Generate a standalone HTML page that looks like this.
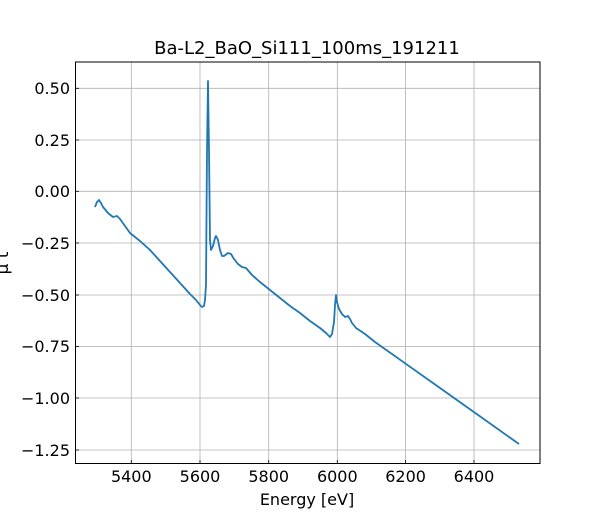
<!DOCTYPE html>
<html><head><meta charset="utf-8"><style>body{margin:0;background:#fff}</style></head><body>
<svg width="600" height="520" xmlns="http://www.w3.org/2000/svg" font-family="DejaVu Sans, Liberation Sans, sans-serif">
<rect width="600" height="520" fill="#fff"/>
<g stroke="#b0b0b0" stroke-width="0.8">
<line x1="131.3" y1="62" x2="131.3" y2="463.5"/><line x1="200" y1="62" x2="200" y2="463.5"/><line x1="268.7" y1="62" x2="268.7" y2="463.5"/><line x1="337.3" y1="62" x2="337.3" y2="463.5"/><line x1="405.6" y1="62" x2="405.6" y2="463.5"/><line x1="474" y1="62" x2="474" y2="463.5"/>
<line x1="75.5" y1="88.3" x2="540" y2="88.3"/><line x1="75.5" y1="140" x2="540" y2="140"/><line x1="75.5" y1="191.3" x2="540" y2="191.3"/><line x1="75.5" y1="243" x2="540" y2="243"/><line x1="75.5" y1="295" x2="540" y2="295"/><line x1="75.5" y1="346.5" x2="540" y2="346.5"/><line x1="75.5" y1="398" x2="540" y2="398"/><line x1="75.5" y1="450" x2="540" y2="450"/>
</g>
<g stroke="#000" stroke-width="0.8">
<line x1="131.3" y1="463.5" x2="131.3" y2="460"/><line x1="200" y1="463.5" x2="200" y2="460"/><line x1="268.7" y1="463.5" x2="268.7" y2="460"/><line x1="337.3" y1="463.5" x2="337.3" y2="460"/><line x1="405.6" y1="463.5" x2="405.6" y2="460"/><line x1="474" y1="463.5" x2="474" y2="460"/>
<line x1="75.5" y1="88.3" x2="79" y2="88.3"/><line x1="75.5" y1="140" x2="79" y2="140"/><line x1="75.5" y1="191.3" x2="79" y2="191.3"/><line x1="75.5" y1="243" x2="79" y2="243"/><line x1="75.5" y1="295" x2="79" y2="295"/><line x1="75.5" y1="346.5" x2="79" y2="346.5"/><line x1="75.5" y1="398" x2="79" y2="398"/><line x1="75.5" y1="450" x2="79" y2="450"/>
</g>
<polyline fill="none" stroke="#1f77b4" stroke-width="1.8" stroke-linejoin="round" points="95,207 97,202 99,200 101,203 103,207 108,213 113,217 117,216 120,219 125,226 130,233 140,241 150,250 160,261 170,272 180,283 190,294 196,300 200,305 202,307 204,306 205,300 206,285 207,150 208,81 209,150 210,240 211,250 213,246 215,238 216,236 218,240 220,250 222,256 224,256 228,253 231,254 234,259 238,264 242,267 246,268 252,275 260,282 270,290 280,298 290,306 300,313 310,321 320,328 326,333 330,337 332,334 334,322 335,305 336,295 337,302 339,309 342,314 345,317 348,316 350,319 352,323 356,328 365,334 375,342 400,359.7 440,388 480,416.4 519,444"/>
<rect x="75.5" y="62" width="464.5" height="401.5" fill="none" stroke="#000" stroke-width="1"/>
<g font-size="16" fill="#000" text-anchor="middle">
<text x="131.3" y="482">5400</text><text x="200" y="482">5600</text><text x="268.7" y="482">5800</text><text x="337.3" y="482">6000</text><text x="405.6" y="482">6200</text><text x="474" y="482">6400</text>
<text x="307" y="505">Energy [eV]</text>
<text x="307" y="54" font-size="18">Ba-L2_BaO_Si111_100ms_191211</text>
</g>
<g font-size="16" fill="#000" text-anchor="end">
<text x="70" y="94">0.50</text><text x="70" y="146">0.25</text><text x="70" y="197">0.00</text><text x="70" y="249">−0.25</text><text x="70" y="301">−0.50</text><text x="70" y="352">−0.75</text><text x="70" y="404">−1.00</text><text x="70" y="456">−1.25</text>
</g>
<text transform="translate(8,263) rotate(-90)" font-size="17" text-anchor="middle">μ t</text>
</svg>
</body></html>
